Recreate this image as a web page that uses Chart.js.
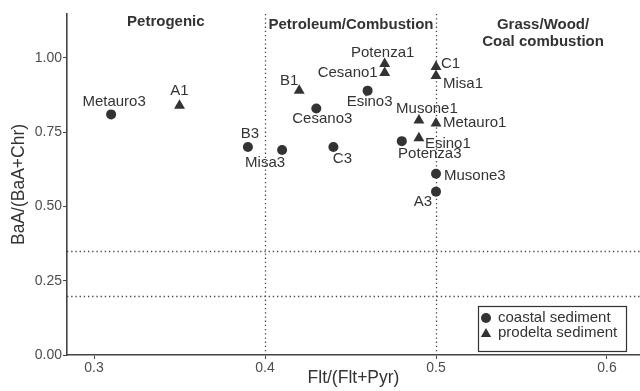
<!DOCTYPE html>
<html><head><meta charset="utf-8">
<script src="https://cdn.jsdelivr.net/npm/chart.js@4/dist/chart.umd.min.js"></script>
<style>html,body{margin:0;padding:0;background:#fff;overflow:hidden;}#wrap{width:640px;height:391px;position:relative;}canvas{display:block;}</style>
</head><body><div id="wrap"><canvas id="c" width="640" height="391"></canvas></div>
<script>
// ---- data ----
const coastalNames = ['Metauro3','B3','Misa3','Cesano3','C3','Esino3','Potenza3','Musone3','A3'];
const coastalX = [0.31,0.39,0.41,0.43,0.44,0.46,0.48,0.50,0.50];
const coastalY = [0.81,0.70,0.69,0.83,0.70,0.89,0.72,0.61,0.55];
const prodeltaNames = ['A1','B1','Potenza1','Cesano1','C1','Misa1','Musone1','Metauro1','Esino1'];
const prodeltaX = [0.35,0.42,0.47,0.47,0.50,0.50,0.49,0.50,0.49];
const prodeltaY = [0.84,0.89,0.98,0.95,0.97,0.94,0.79,0.78,0.73];
const xTicks = [0.3,0.4,0.5,0.6];
const yTicks = [0,0.25,0.5,0.75,1];
const vLines = [0.4,0.5];
const hLines = [0.2,0.35];
const regionTexts = ['Petrogenic','Petroleum/Combustion','Grass/Wood/','Coal combustion'];
const seriesNames = ['coastal sediment','prodelta sediment'];

// ---- styling / placement (not data) ----
const FONT = "'Liberation Sans', Arial, sans-serif";
const INK = '#333333';
const regionPos = [[0.342,1.12],[0.4503,1.113],[0.5626,1.11],[0.5626,1.053]];
const labelOffsets = {
  Metauro3:[3,-13,'center'], B3:[2,-13,'center'], Misa3:[-17,13,'center'], Cesano3:[6,10,'center'],
  C3:[9,12,'center'], Esino3:[2,11,'center'], Potenza3:[28,13,'center'], Musone3:[8,2,'left'],
  A3:[-4,10,'right'], A1:[0,-15,'center'], B1:[-10,-10,'center'], Potenza1:[-2,-11,'center'],
  Cesano1:[-7,0,'right'], C1:[5,-3,'left'], Misa1:[7,8,'left'], Musone1:[8,-11,'center'],
  Metauro1:[7,0,'left'], Esino1:[6,6,'left']
};

const toPts = (xs, ys) => xs.map((x,i)=>({x:x, y:ys[i]}));

const overlay = {
  id:'overlay',
  beforeDatasetsDraw(chart){
    const {ctx, chartArea:a, scales:{x, y}} = chart;
    ctx.save();
    ctx.strokeStyle = '#444';
    ctx.lineWidth = 1.3;
    ctx.setLineDash([1.3,2.9]);
    vLines.forEach(v=>{
      const px = Math.round(x.getPixelForValue(v))+0.5;
      ctx.beginPath(); ctx.moveTo(px,a.top); ctx.lineTo(px,a.bottom); ctx.stroke();
    });
    hLines.forEach(v=>{
      const py = Math.round(y.getPixelForValue(v))+0.5;
      ctx.beginPath(); ctx.moveTo(a.left,py); ctx.lineTo(a.right,py); ctx.stroke();
    });
    ctx.restore();
  },
  afterDatasetsDraw(chart){
    const {ctx, scales:{x, y}} = chart;
    ctx.save();
    // region labels
    ctx.fillStyle = INK;
    ctx.font = 'bold 15px ' + FONT;
    ctx.textAlign = 'center'; ctx.textBaseline = 'middle';
    regionTexts.forEach((t,i)=>{
      ctx.fillText(t, x.getPixelForValue(regionPos[i][0]), y.getPixelForValue(regionPos[i][1]));
    });
    // point labels
    ctx.font = '15px ' + FONT;
    const nameSets = [coastalNames, prodeltaNames];
    chart.data.datasets.forEach((ds, di)=>{
      const meta = chart.getDatasetMeta(di);
      meta.data.forEach((el, i)=>{
        const name = nameSets[di][i];
        const o = labelOffsets[name] || [0,-12,'center'];
        ctx.textAlign = o[2];
        ctx.fillText(name, el.x + o[0], el.y + o[1]);
      });
    });
    // legend box
    const lx = 478, ly = 306, lw = 148, lh = 45;
    ctx.fillStyle = '#fff';
    ctx.fillRect(lx, ly, lw, lh);
    ctx.strokeStyle = '#333'; ctx.lineWidth = 1.2; ctx.setLineDash([]);
    ctx.strokeRect(lx+0.5, ly+0.5, lw, lh);
    const styles = ['circle','triangle'];
    const radii = [5,6];
    seriesNames.forEach((n,i)=>{
      const cy = ly + 12 + i*15;
      ctx.fillStyle = INK;
      Chart.helpers.drawPoint(ctx, {pointStyle:styles[i], radius:radii[i], borderWidth:0}, lx+8, cy + (i?1:0));
      ctx.fillStyle = INK;
      ctx.textAlign = 'left'; ctx.textBaseline = 'middle';
      ctx.fillText(n, lx+20, cy);
    });
    ctx.restore();
  }
};

new Chart(document.getElementById('c'), {
  type:'scatter',
  data:{
    datasets:[
      {label:seriesNames[0], data:toPts(coastalX, coastalY), pointStyle:'circle', pointRadius:5,
       backgroundColor:INK, borderColor:INK, borderWidth:0, pointHoverRadius:5},
      {label:seriesNames[1], data:toPts(prodeltaX, prodeltaY), pointStyle:'triangle', pointRadius:6.3,
       backgroundColor:INK, borderColor:INK, borderWidth:0, pointHoverRadius:6.3}
    ]
  },
  options:{
    responsive:false, animation:false, devicePixelRatio:1,
    layout:{autoPadding:false, padding:{top:14, right:0, left:0, bottom:0}},
    plugins:{legend:{display:false}, tooltip:{enabled:false}},
    scales:{
      x:{type:'linear', position:'bottom', min:0.2842, max:0.6193,
        afterBuildTicks:s=>{ s.ticks = xTicks.map(v=>({value:v})); },
        afterFit:s=>{ s.height = 36; s.paddingRight = 0; s.paddingLeft = 0; },
        ticks:{callback:v=>Number(v).toFixed(1), color:'#4d4d4d', font:{size:14, family:FONT}, padding:1, maxRotation:0, autoSkip:false},
        grid:{drawOnChartArea:false, drawTicks:true, tickLength:4, color:'#444', lineWidth:1},
        border:{display:true, color:'#444', width:1.6},
        title:{display:true, text:'Flt/(Flt+Pyr)', color:INK, font:{size:17.5, family:FONT}, padding:{top:0, bottom:2}}
      },
      y:{type:'linear', position:'left', min:0, max:1.148,
        afterBuildTicks:s=>{ s.ticks = yTicks.map(v=>({value:v})); },
        afterFit:s=>{ s.width = 67; s.paddingTop = 0; s.paddingBottom = 0; },
        ticks:{callback:v=>Number(v).toFixed(2), color:'#4d4d4d', font:{size:14, family:FONT}, padding:1},
        grid:{drawOnChartArea:false, drawTicks:true, tickLength:4, color:'#444', lineWidth:1},
        border:{display:true, color:'#444', width:1.6},
        title:{display:true, text:'BaA/(BaA+Chr)', color:INK, font:{size:17.5, family:FONT}, padding:{top:9, bottom:0}}
      }
    }
  },
  plugins:[overlay]
});
</script>
</body></html>
